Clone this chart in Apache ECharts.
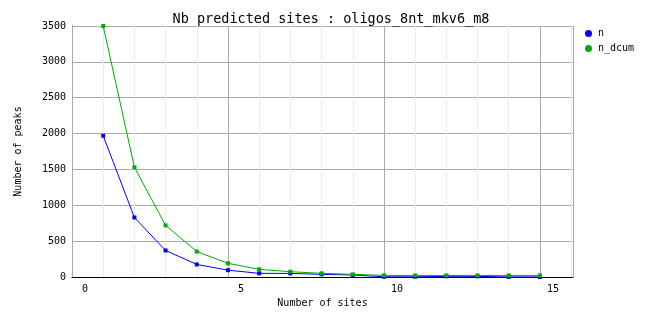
<!DOCTYPE html>
<html>
<head>
<meta charset="utf-8">
<script src="https://cdn.jsdelivr.net/npm/echarts@6/dist/echarts.min.js"></script>
<style>html,body{margin:0;padding:0;background:#fff}#c{width:662px;height:328px}</style>
</head>
<body>
<div id="c"></div>
<script>
var sites = [1, 2, 3, 4, 5, 6, 7, 8, 9, 10, 11, 12, 13, 14, 15];
var nValues = [1970, 830, 370, 175, 95, 51, 50, 37, 28, 3, 3, 9, 9, 1, 1];
var nDcumValues = [3500, 1530, 720, 355, 191, 107, 74, 51, 37, 23, 22, 22, 22, 22, 22];
var xTickLabels = ["0", "5", "10", "15"];
var yTickLabels = ["0", "500", "1000", "1500", "2000", "2500", "3000", "3500"];

var FONT = "DejaVu Sans Mono";
function pairs(xs, ys) { return xs.map(function (x, i) { return [x, ys[i]]; }); }

var chart = echarts.init(document.getElementById('c'), null, { renderer: 'canvas' });
chart.setOption({
  animation: false,
  backgroundColor: '#ffffff',
  title: {
    text: 'Nb predicted sites : oligos_8nt_mkv6_m8',
    left: 'center', top: 7,
    textStyle: { fontFamily: FONT, fontSize: 13.5, fontWeight: 'normal', color: '#000' }
  },
  legend: {
    orient: 'vertical', left: 580, top: 23,
    itemWidth: 7, itemHeight: 7, itemGap: 4, icon: 'circle',
    textStyle: { fontFamily: FONT, fontSize: 10, color: '#000', lineHeight: 11, padding: [0, 0, 0, 1] },
    data: ['n', 'n_dcum']
  },
  grid: { left: 72, right: 89, top: 26, bottom: 51, containLabel: false },
  xAxis: [
    {
      type: 'value', min: 0, max: 16.06, interval: 5, position: 'bottom', z: 3,
      name: 'Number of sites', nameLocation: 'middle', nameGap: 21,
      nameTextStyle: { fontFamily: FONT, fontSize: 10, color: '#000' },
      axisLine: { show: true, onZero: false, lineStyle: { color: '#000', width: 1 } },
      axisTick: { show: false },
      axisLabel: {
        fontFamily: FONT, fontSize: 10, color: '#000', margin: 7,
        showMaxLabel: false, padding: [0, 0, 0, 26],
        formatter: function (v) { var i = Math.round(v / 5); return (Math.abs(v - i * 5) < 1e-6 && xTickLabels[i] !== undefined) ? xTickLabels[i] : ''; }
      },
      splitLine: { show: true, lineStyle: { color: '#aaaaaa', width: 1 } }
    },
    {
      type: 'value', min: 0, max: 16.06, interval: 1, position: 'bottom', z: 1,
      axisLine: { show: false }, axisTick: { show: false }, axisLabel: { show: false },
      splitLine: { show: true, lineStyle: { color: '#ececec', width: 1 } }
    }
  ],
  yAxis: {
    type: 'value', min: 0, max: 3500, interval: 500,
    name: 'Number of peaks', nameLocation: 'middle', nameGap: 49,
    nameTextStyle: { fontFamily: FONT, fontSize: 10, color: '#000' },
    axisLine: { show: true, lineStyle: { color: '#000', width: 1 } },
    axisTick: { show: false },
    axisLabel: {
      fontFamily: FONT, fontSize: 10, color: '#000', margin: 6,
      formatter: function (v) { return yTickLabels[Math.round(v / 500)]; }
    },
    splitLine: { show: true, lineStyle: { color: '#aaaaaa', width: 1 } }
  },
  series: [
    {
      name: 'n', type: 'line', xAxisIndex: 0, data: pairs(sites, nValues),
      color: '#0000ff', symbol: 'rect', symbolSize: 4, showAllSymbol: true,
      lineStyle: { width: 1, color: '#0000ff' }, itemStyle: { color: '#0000ff' }
    },
    {
      name: 'n_dcum', type: 'line', xAxisIndex: 0, data: pairs(sites, nDcumValues),
      color: '#00aa00', symbol: 'rect', symbolSize: 4, showAllSymbol: true,
      lineStyle: { width: 1, color: '#00aa00' }, itemStyle: { color: '#00aa00' }
    }
  ]
});
</script>
</body>
</html>
